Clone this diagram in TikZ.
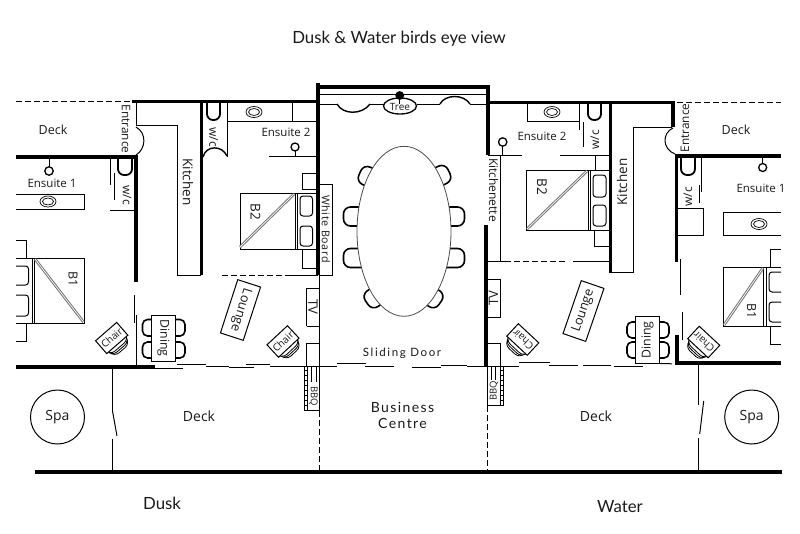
\documentclass[tikz,border=0pt]{standalone}
\usepackage{fontspec}
\setmainfont{Open Sans}
\newfontfamily\titlefont{Lato}
\newfontfamily\spacedfont[LetterSpace=14]{Lato}
\newfontfamily\bizfont[LetterSpace=10]{Lato}
\newfontfamily\wbfont[LetterSpace=6]{Open Sans}
\definecolor{ink}{HTML}{1A1A1A}
\tikzset{
  wall/.style={line width=3.6pt,line cap=butt,black},
  thin/.style={line width=1pt,black},
  dashline/.style={line width=1pt,black,dash pattern=on 6pt off 3pt},
  lbl/.style={inner sep=0pt,text=ink,font=\fontsize{11.5}{13}\selectfont},
  big/.style={inner sep=0pt,text=ink,font=\titlefont\fontsize{16.8}{19}\selectfont},
  mid/.style={inner sep=0pt,text=ink,font=\fontsize{14}{16}\selectfont},
  tiny/.style={inner sep=0pt,text=ink,font=\fontsize{10}{11}\selectfont},
  rr/.style={line width=1pt,rounded corners=3pt},
  ush/.style={line width=1.8pt,rounded corners=6pt},
  seat/.style={line width=1.6pt,rounded corners=7pt,fill=white},
  diag/.style={line width=1pt,black!55,double=white,double distance=.7pt},
}
\newcommand{\basin}[2]{\draw[thin,line width=.7pt] (#1,#2) ellipse (8 and 5.5) (#1,#2) ellipse (5.5 and 3.5);}
\newcommand{\dchair}[4]{\draw[seat,shift={(#1,#2)},rotate=#3] (-6,-9.5) -- (#4,-9.5) -- (#4,9.5) -- (-6,9.5);}
\newcommand{\tablearc}[4]{\draw[line width=1.6pt,rounded corners=5pt] (#1,#2) -- (#3,#2) -- (#3,#4) -- (#1,#4);}
\newcommand{\chairat}[5]{%
  \begin{scope}[shift={(#1,#2)},rotate=#3]
    \draw[thin,line width=.8pt,rounded corners=7pt,fill=white] (-11,{#4*(-2)}) rectangle (11,{#4*16});
    \draw[thin,line width=.8pt,rounded corners=7pt,fill=white] (-12,{#4*(-3)}) rectangle (12,{#4*14});
    \draw[thin,line width=.8pt,rounded corners=7pt,fill=white] (-13,{#4*(-4)}) rectangle (13,{#4*12});
    \draw[thin,fill=white] (-14,-8.5) rectangle (14,8.5);
    \node[tiny,rotate=#3] (#5) at (0,0) {Chair};
  \end{scope}}
\begin{document}
\begin{tikzpicture}[x=1pt,y=-1pt]
\useasboundingbox (0,0) rectangle (800,533);
\fill[white] (0,0) rectangle (800,533);

% ---- top / bottom outer
\draw[dashline] (16,101.5) -- (132,101.5);
\draw[dashline] (677,102) -- (781,102);
\draw[wall] (132,101.5) -- (318,101.5);
\draw[wall] (488,102.5) -- (675,102.5);
\draw[wall] (316.5,86.7) -- (489.7,86.7);
\draw[wall] (318,83) -- (318,275);
\draw[wall] (488,85) -- (488,155);
\draw[wall] (486,225) -- (486,366);
\draw[wall] (35,472) -- (782,472);

% ---- left unit walls
\draw[wall] (16,157) -- (137.8,157);
\draw[wall] (136,157) -- (136,282);
\draw[wall] (16,367) -- (155,367);
\draw[wall] (201.5,102) -- (201.5,275);
\draw[thin] (136.5,103) -- (136.5,125) -- (177.5,125) -- (177.5,275) -- (201,275);
\draw[thin] (136,127) .. controls (147,133) and (146,149) .. (136,155);
\draw[dashline] (222,275) -- (287,275);
\draw[thin] (287,275) -- (318,275);
\draw[thin] (319.3,275) -- (319.3,366);
\draw[thin] (134.5,295) -- (134.5,323);
\draw[thin] (136.5,315) -- (136.5,366);
\draw[thin] (112.5,368) -- (112.5,411);
\draw[thin] (112.5,411) -- (117,436);
\draw[thin] (112.5,439) -- (112.5,471);

% left ensuite 2
\draw[ush] (207,103) -- (207,120) -- (220,120) -- (220,103);
\draw[thin] (227,103) -- (227,157);
\draw[thin] (227,121.7) -- (317,121.7);
\draw[thin] (292.3,103) -- (292.3,121.7);
\basin{254}{112}
\draw[line width=1.4pt] (203,157) .. controls (206,145) and (222,145) .. (227,156);
\node[lbl] (ens2l) at (286,132) {Ensuite 2};
\draw[line width=1.3pt] (295,147) circle (4);
\draw[thin] (295,151) -- (295,156);
\draw[thin] (269,156) -- (317,156);
% left b2
\draw[thin] (316,173) -- (302,173) -- (302,189) -- (316,189);
\draw[thin] (240,193) rectangle (316,249.3);
\draw[thin] (295,193) -- (295,249.3) (297,193) -- (297,249.3);
\draw[rr] (300,196) rectangle (312.5,216);
\draw[rr] (300,226) rectangle (312.5,246);
\draw[diag] (240,247) -- (294,194);
\draw[thin] (302,249.3) -- (302,268) -- (316,268);
\node[lbl,rotate=-90,font=\fontsize{13.5}{15}\selectfont] (b2l) at (255.5,212) {B2};
\draw[thin,fill=white] (319.5,184) rectangle (332,275);
\node[lbl,rotate=-90,font=\wbfont\fontsize{10.7}{12}\selectfont] (wb) at (325.8,229) {White Board};
\draw[thin] (306.7,288) -- (319,288) (306.7,326) -- (319,326) (306.7,288) -- (306.7,326);
\node[lbl,rotate=-90,font=\fontsize{13}{15}\selectfont] (tvl) at (313,307) {TV};
\draw[thin] (306.7,366) -- (306.7,343.3) -- (319,343.3);

% left labels
\node[lbl,font=\fontsize{12.5}{14}\selectfont] (deckla) at (53,130) {Deck};
\node[lbl,rotate=-90,font=\fontsize{11.8}{13}\selectfont] (entl) at (126,129) {Entrance};
\node[mid,rotate=-90,font=\fontsize{13.5}{15}\selectfont] (kitl) at (188,182) {Kitchen};
\node[lbl,rotate=-90,font=\fontsize{12}{14}\selectfont] (wcl2) at (213.5,137) {w/c};
\node[lbl] (ens1l) at (52,183) {Ensuite 1};
\draw[thin] (49.5,158) -- (49.5,167);
\draw[line width=1.3pt] (49,171) circle (4.2);
\draw[thin] (16,194) -- (84.5,194) -- (84.5,209.5) -- (16,209.5);
\basin{48}{201.5}
\draw[ush] (118,158) -- (118,175) -- (132,175) -- (132,158);
\draw[thin] (110.5,158) -- (110.5,185) (114.3,173) -- (114.3,200);
\draw[thin] (110,210.5) -- (134,210.5);
\node[lbl,rotate=-90,font=\fontsize{12}{14}\selectfont] (wcl1) at (127,195) {w/c};
% left b1
\draw[thin] (16,240) -- (26.5,240) -- (26.5,258);
\draw[thin] (16,258) -- (84.5,258) -- (84.5,323) -- (16,323);
\draw[thin] (32,258) -- (32,323) (34.5,258) -- (34.5,323);
\draw[rr] (16,266) -- (28.5,266) -- (28.5,285) -- (16,285);
\draw[rr] (16,295) -- (28.5,295) -- (28.5,316) -- (16,316);
\draw[diag] (35,259) -- (83.5,322);
\draw[thin] (26.5,323) -- (26.5,341) -- (16,341);
\node[lbl,rotate=-90,font=\fontsize{12.5}{14}\selectfont] (b1l) at (73,279) {B1};
\chairat{111.7}{338}{41}{1}{chl}
% left dining
\tablearc{151}{319.5}{142.5}{336}
\tablearc{151}{342}{142.5}{358}
\tablearc{175.5}{319.5}{185}{336}
\tablearc{175.5}{342}{185}{358}
\draw[thin,fill=white] (151,315) rectangle (175.5,361.5);
\node[lbl,rotate=-90,font=\fontsize{12.3}{14}\selectfont] (dil) at (163.5,338) {Dining};
\draw[thin,fill=white,rotate around={-18:(240.5,310)}] (228.5,282) rectangle (252.5,338);
\node[lbl,rotate=-107,font=\fontsize{12.8}{14}\selectfont] (lol) at (240.5,310) {Lounge};
\chairat{283}{341.5}{43}{1}{chm}
% left sliding
\draw[thin] (155,368) -- (183,368);
\draw[thin] (177,364.3) -- (205.7,364.3);
\draw[thin] (206,366.3) -- (229,366.3);
\draw[thin] (229,367.3) -- (254,367.3);
\draw[thin] (246,364.3) -- (270,364.3);
\draw[thin] (270,366.3) -- (337,366.3);
% left bbq
\draw[thin] (304.3,366) -- (304.3,410) -- (319.5,410) -- (319.5,366);
\draw[thin] (307,366) -- (307,410);
\foreach \yy in {370,375,...,405} \draw[line width=.7pt] (304.3,\yy) -- (307,\yy);
\draw[thin] (311.7,366) -- (311.7,382) (316.3,366) -- (316.3,382);
\node[tiny,rotate=-90,font=\fontsize{9.5}{11}\selectfont] (bbql) at (313.5,396) {BBQ};
\draw[dashline] (319.3,411) -- (319.3,470);
\draw[thin] (57.5,417) circle (27);
\node[mid] (spal) at (57.5,417) {Spa};
\node[mid] (decklb) at (199,416) {Deck};

% ---- centre
\draw[thin] (319,94.5) -- (487,94.5);
\draw[thin] (319,104) -- (337,104);
\draw[line width=1.4pt] (337,104) .. controls (343,115) and (362,115) .. (370,104);
\draw[thin] (370,104) -- (384,104);
\draw[thin] (417,104) -- (440,104);
\draw[line width=1.4pt] (440,104) .. controls (445,94) and (464,94) .. (470,104);
\draw[thin] (470,104) -- (487,104);
\draw[line width=1.3pt,fill=white] (400,106) ellipse (16.5 and 8);
\fill[black] (399.7,95.5) circle (4.4);
\draw[line width=1pt] (399.7,96) -- (399.7,104);
\node[tiny] (tree) at (400,107) {Tree};
\dchair{369}{177}{156}{10}
\dchair{357.5}{216.5}{180}{14}
\dchair{357.5}{258}{180}{14}
\dchair{375}{297}{215}{10}
\dchair{440}{176}{25}{10}
\dchair{450.5}{216.5}{0}{14}
\dchair{450.5}{258}{0}{14}
\dchair{432}{297}{-35}{10}
\draw[line width=.8pt,black!70,fill=white] (404,231.3) ellipse (47 and 85);
\node[lbl,font=\spacedfont\fontsize{11.5}{13}\selectfont] (slide) at (402,353) {Sliding Door};
\draw[thin] (337,363.7) -- (366,363.7);
\draw[thin] (365,366) -- (394,366);
\draw[thin] (412,367) -- (441,367);
\draw[thin] (441,365) -- (467,365);
\draw[thin] (467,366) -- (486,366);
\node[big,font=\bizfont\fontsize{14}{16}\selectfont] (biz) at (402.5,407) {Business};
\node[big,font=\bizfont\fontsize{14}{16}\selectfont] (cen) at (402.5,423) {Centre};
\node[big] (title) at (399,38.5) {Dusk \& Water birds eye view};
\node[big] (dusk) at (162,503) {Dusk};
\node[big] (water) at (620,506.5) {Water};

% ---- right unit
\draw[thin] (500.5,155) -- (500.5,261.7);
\draw[thin] (488,155) -- (521.5,155);
\draw[thin] (560,155) -- (609,155);
\node[lbl,rotate=-90,font=\fontsize{12}{14}\selectfont] (kitr2) at (493.5,190) {Kitchenette};
\draw[line width=1.3pt] (502.7,142) circle (4.2);
\draw[thin] (502.7,146) -- (502.7,155);
\node[lbl] (ens2r) at (542,136) {Ensuite 2};
\draw[thin] (527,104) -- (527,121.5) -- (579.5,121.5);
\draw[thin] (579.3,104) -- (579.3,130);
\draw[thin] (583.5,122) -- (583.5,147);
\basin{552}{112}
\draw[ush] (588,104) -- (588,120) -- (601,120) -- (601,104);
\node[lbl,rotate=90,font=\fontsize{12}{14}\selectfont] (wcr2) at (595,140) {w/c};
\draw[thin] (595.3,155) -- (595.3,170);
\draw[thin] (526.3,170) rectangle (609,230);
\draw[thin] (588,170) -- (588,230) (590,170) -- (590,230);
\draw[rr] (593,175) rectangle (606,197);
\draw[rr] (593,205) rectangle (606,226);
\draw[diag] (527,229) -- (587,171);
\node[lbl,rotate=-90,font=\fontsize{13.5}{15}\selectfont] (b2r) at (542,187) {B2};
\draw[thin] (594.7,230) -- (594.7,246.7) -- (609,246.7);
\draw[thin] (487,261.7) -- (505,261.7);
\draw[dashline] (505,261.7) -- (566,261.7);
\draw[thin] (573,261.7) -- (609,261.7);
\draw[wall] (610.5,101) -- (610.5,273);
\draw[thin] (612,272.5) -- (633.5,272.5) -- (633.5,127) -- (672,127);
\node[mid,rotate=90,font=\fontsize{13.5}{15}\selectfont] (kitr) at (622,182) {Kitchen};
\draw[wall] (673,102) -- (673,127);
\draw[thin] (673,128) .. controls (662,133) and (662,149) .. (675,154);
\node[lbl,rotate=90,font=\fontsize{11.8}{13}\selectfont] (entr) at (685,128) {Entrance};
\node[lbl,font=\fontsize{12.5}{14}\selectfont] (deckra) at (736,130) {Deck};
\draw[wall] (675,156) -- (781,156);
\draw[wall] (676.3,156) -- (676.3,262);
\draw[thin] (762.7,157) -- (762.7,163);
\draw[line width=1.3pt] (762.7,167.5) circle (4);
\node[lbl] (ens1r) at (761,188) {Ensuite 1};
\draw[ush] (681,157) -- (681,175) -- (695,175) -- (695,157);
\draw[thin] (701,158) -- (701,192) (699.3,185) -- (699.3,203);
\node[lbl,rotate=90,font=\fontsize{12}{14}\selectfont] (wcr1) at (688,197) {w/c};
\draw[thin] (678,208) -- (703.5,208) -- (703.5,235.7) -- (678,235.7);
\draw[thin] (781,212) -- (723,212) -- (723,235.7) -- (781,235.7);
\basin{759}{224}
\draw[thin] (781,249.3) -- (770.5,249.3) -- (770.5,267);
\draw[thin] (781,267) -- (723,267) -- (723,326) -- (781,326);
\draw[thin] (763.7,267) -- (763.7,326) (766,267) -- (766,326);
\draw[rr] (781,272) -- (769,272) -- (769,292) -- (781,292);
\draw[rr] (781,302) -- (769,302) -- (769,322) -- (781,322);
\draw[diag] (724,325) -- (763,268);
\node[lbl,rotate=-90,font=\fontsize{12.5}{14}\selectfont] (b1r) at (751.5,311.5) {B1};
\draw[thin] (770.5,326) -- (770.5,344) -- (781,344);
\draw[thin] (680.7,259) -- (680.7,295);
\draw[thin] (682.3,312) -- (682.3,340);
\draw[wall] (677,335) -- (677,364.8);
\draw[wall] (675.2,363) -- (781,363);
\draw[thin] (698.7,364) -- (698.7,405);
\draw[thin] (703.7,401) -- (699.7,434);
\draw[thin] (698.7,438) -- (698.7,471);
\draw[thin] (751.7,417) circle (27);
\node[mid] (spar) at (751.7,417) {Spa};
\node[mid] (deckrb) at (596,416) {Deck};
% right TV etc
\draw[thin] (487.7,279.3) -- (500.7,279.3) -- (500.7,317.3) -- (487.7,317.3);
\node[lbl,rotate=90,font=\fontsize{13}{15}\selectfont] (tvr) at (493.5,298) {TV};
\draw[thin] (487.7,343.3) -- (500.7,343.3) -- (500.7,366);
% right sliding
\draw[thin] (480,366) -- (519,366);
\draw[thin] (519,362.7) -- (550,362.7);
\draw[thin] (549,365.3) -- (578,365.3);
\draw[thin] (583,365.3) -- (611,365.3);
\draw[thin] (614,366.7) -- (643,366.7);
\draw[thin] (660,363.5) -- (672,363.8);
% right bbq
\draw[thin] (487.5,366) -- (487.5,405.7) -- (503.3,405.7) -- (503.3,366);
\draw[thin] (500.7,366) -- (500.7,405.7);
\foreach \yy in {370,375,...,405} \draw[line width=.7pt] (500.7,\yy) -- (503.3,\yy);
\draw[thin] (491,366) -- (491,380) (495.7,366) -- (495.7,380);
\node[tiny,rotate=90,font=\fontsize{9.5}{11}\selectfont] (bbqr) at (494,391) {BBQ};
\draw[dashline] (487.5,406) -- (487.5,470);
% right dining
\tablearc{635.7}{322}{627}{338}
\tablearc{635.7}{342}{627}{358}
\tablearc{659.3}{322}{669}{338}
\tablearc{659.3}{342}{669}{358}
\draw[thin,fill=white] (635.7,316.7) rectangle (659.3,363.3);
\node[lbl,rotate=90,font=\fontsize{12.3}{14}\selectfont] (dir) at (647.5,340) {Dining};
\draw[thin,fill=white,rotate around={-19:(583.5,311)}] (571.5,283) rectangle (595.5,339);
\node[lbl,rotate=71,font=\fontsize{12.8}{14}\selectfont] (lor) at (583.5,311) {Lounge};
\chairat{522.8}{339.5}{137}{-1}{chr}
\chairat{703.7}{342}{137}{-1}{chs}
\end{tikzpicture}
\end{document}
